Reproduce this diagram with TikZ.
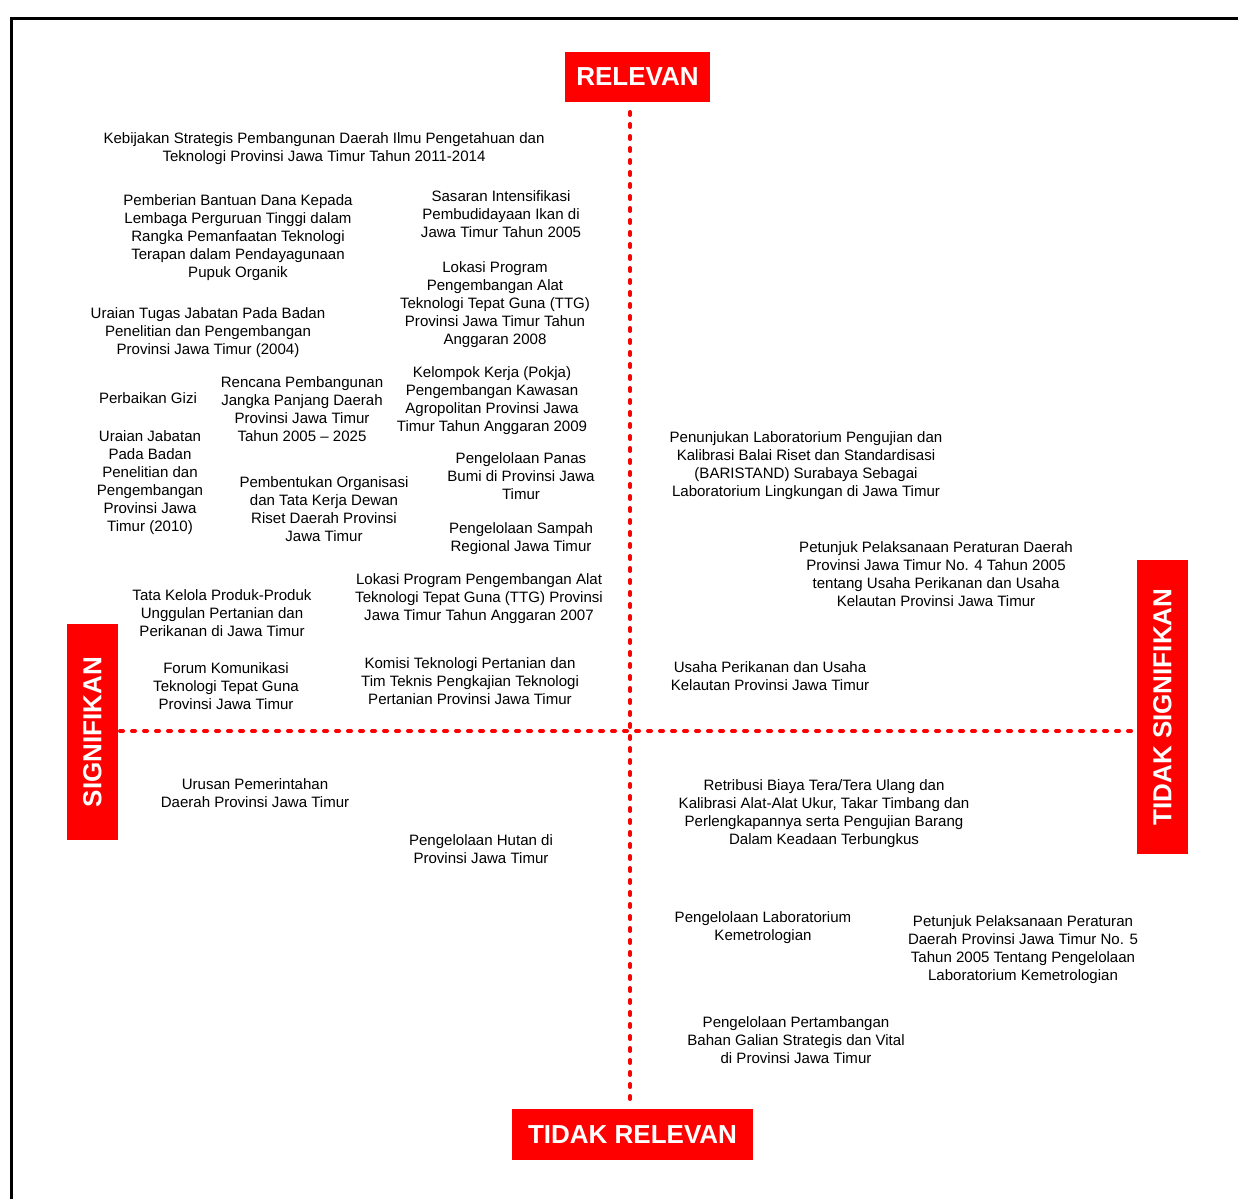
\documentclass[tikz,border=0pt]{standalone}
\usepackage{fontspec}
\setmainfont{Liberation Sans}
\begin{document}
\begin{tikzpicture}[x=1pt,y=-1pt,
  lbl/.style={align=center,inner sep=0pt,font=\fontsize{15.05}{18}\selectfont,text=black},
  axisbox/.style={fill=red,text=white,inner sep=0pt,font=\fontsize{26}{30}\selectfont\bfseries},
  axisline/.style={red,line width=4pt,dash pattern=on 3pt off 9pt,line cap=round}]
\useasboundingbox (0,0) rectangle (1238,1199);
\draw[black,line width=3pt] (11,1199) -- (11,19) -- (1238,19);
% axis boxes
\node[axisbox,minimum width=145pt,minimum height=50pt] (rel) at (637.5,77) {RELEVAN};
\node[axisbox,minimum width=241pt,minimum height=51pt] (trel) at (632.5,1134.5) {TIDAK RELEVAN};
\node[axisbox,minimum width=216pt,minimum height=51pt,rotate=90] (sig) at (92.5,732) {SIGNIFIKAN};
\node[axisbox,minimum width=294pt,minimum height=51pt,rotate=90] (tsig) at (1162.5,707) {TIDAK SIGNIFIKAN};
% axes
\coordinate (vtop) at (630,112);
\coordinate (vbot) at (630,1103);
\coordinate (hl) at (120,731);
\coordinate (hr) at (1135,731);
\draw[axisline] (vtop) -- (vbot);
\draw[axisline] (hl) -- (hr);
% labels
\node[lbl] (t1) at (324,149) {Kebijakan Strategis Pembangunan Daerah Ilmu Pengetahuan dan\\Teknologi Provinsi Jawa Timur Tahun 2011-2014};
\node[lbl] (t2) at (238,238) {Pemberian Bantuan Dana Kepada\\Lembaga Perguruan Tinggi dalam\\Rangka Pemanfaatan Teknologi\\Terapan dalam Pendayagunaan\\Pupuk Organik};
\node[lbl] (t3) at (501,214) {Sasaran Intensifikasi\\Pembudidayaan Ikan di\\Jawa Timur Tahun 2005};
\node[lbl] (t4) at (495,305) {Lokasi Program\\Pengembangan Alat\\Teknologi Tepat Guna (TTG)\\Provinsi Jawa Timur Tahun\\Anggaran 2008};
\node[lbl] (t5) at (208,333) {Uraian Tugas Jabatan Pada Badan\\Penelitian dan Pengembangan\\Provinsi Jawa Timur (2004)};
\node[lbl] (t6) at (148,398) {Perbaikan Gizi};
\node[lbl] (t7) at (302,409) {Rencana Pembangunan\\Jangka Panjang Daerah\\Provinsi Jawa Timur\\Tahun 2005 -- 2025};
\node[lbl] (t8) at (492,401) {Kelompok Kerja (Pokja)\\Pengembangan Kawasan\\Agropolitan Provinsi Jawa\\Timur Tahun Anggaran 2009};
\node[lbl] (t9) at (150,483) {Uraian Jabatan\\Pada Badan\\Penelitian dan\\Pengembangan\\Provinsi Jawa\\Timur (2010)};
\node[lbl] (t10) at (324,509) {Pembentukan Organisasi\\dan Tata Kerja Dewan\\Riset Daerah Provinsi\\Jawa Timur};
\node[lbl] (t11) at (521,476) {Pengelolaan Panas\\Bumi di Provinsi Jawa\\Timur};
\node[lbl] (t12) at (521,539) {Pengelolaan Sampah\\Regional Jawa Timur};
\node[lbl] (t13) at (806,466) {Penunjukan Laboratorium Pengujian dan\\Kalibrasi Balai Riset dan Standardisasi\\(BARISTAND) Surabaya Sebagai\\Laboratorium Lingkungan di Jawa Timur};
\node[lbl] (t14) at (936,574) {Petunjuk Pelaksanaan Peraturan Daerah\\Provinsi Jawa Timur No. 4 Tahun 2005\\tentang Usaha Perikanan dan Usaha\\Kelautan Provinsi Jawa Timur};
\node[lbl] (t15) at (222,613) {Tata Kelola Produk-Produk\\Unggulan Pertanian dan\\Perikanan di Jawa Timur};
\node[lbl] (t16) at (479,599) {Lokasi Program Pengembangan Alat\\Teknologi Tepat Guna (TTG) Provinsi\\Jawa Timur Tahun Anggaran 2007};
\node[lbl] (t17) at (226,686) {Forum Komunikasi\\Teknologi Tepat Guna\\Provinsi Jawa Timur};
\node[lbl] (t18) at (470,681) {Komisi Teknologi Pertanian dan\\Tim Teknis Pengkajian Teknologi\\Pertanian Provinsi Jawa Timur};
\node[lbl] (t19) at (770,676) {Usaha Perikanan dan Usaha\\Kelautan Provinsi Jawa Timur};
\node[lbl] (t20) at (255,793) {Urusan Pemerintahan\\Daerah Provinsi Jawa Timur};
\node[lbl] (t21) at (481,849) {Pengelolaan Hutan di\\Provinsi Jawa Timur};
\node[lbl] (t22) at (824,814) {Retribusi Biaya Tera/Tera Ulang dan\\Kalibrasi Alat-Alat Ukur, Takar Timbang dan\\Perlengkapannya serta Pengujian Barang\\Dalam Keadaan Terbungkus};
\node[lbl] (t23) at (763,928) {Pengelolaan Laboratorium\\Kemetrologian};
\node[lbl] (t24) at (1023,950) {Petunjuk Pelaksanaan Peraturan\\Daerah Provinsi Jawa Timur No. 5\\Tahun 2005 Tentang Pengelolaan\\Laboratorium Kemetrologian};
\node[lbl] (t25) at (796,1040) {Pengelolaan Pertambangan\\Bahan Galian Strategis dan Vital\\di Provinsi Jawa Timur};
\end{tikzpicture}
\end{document}
